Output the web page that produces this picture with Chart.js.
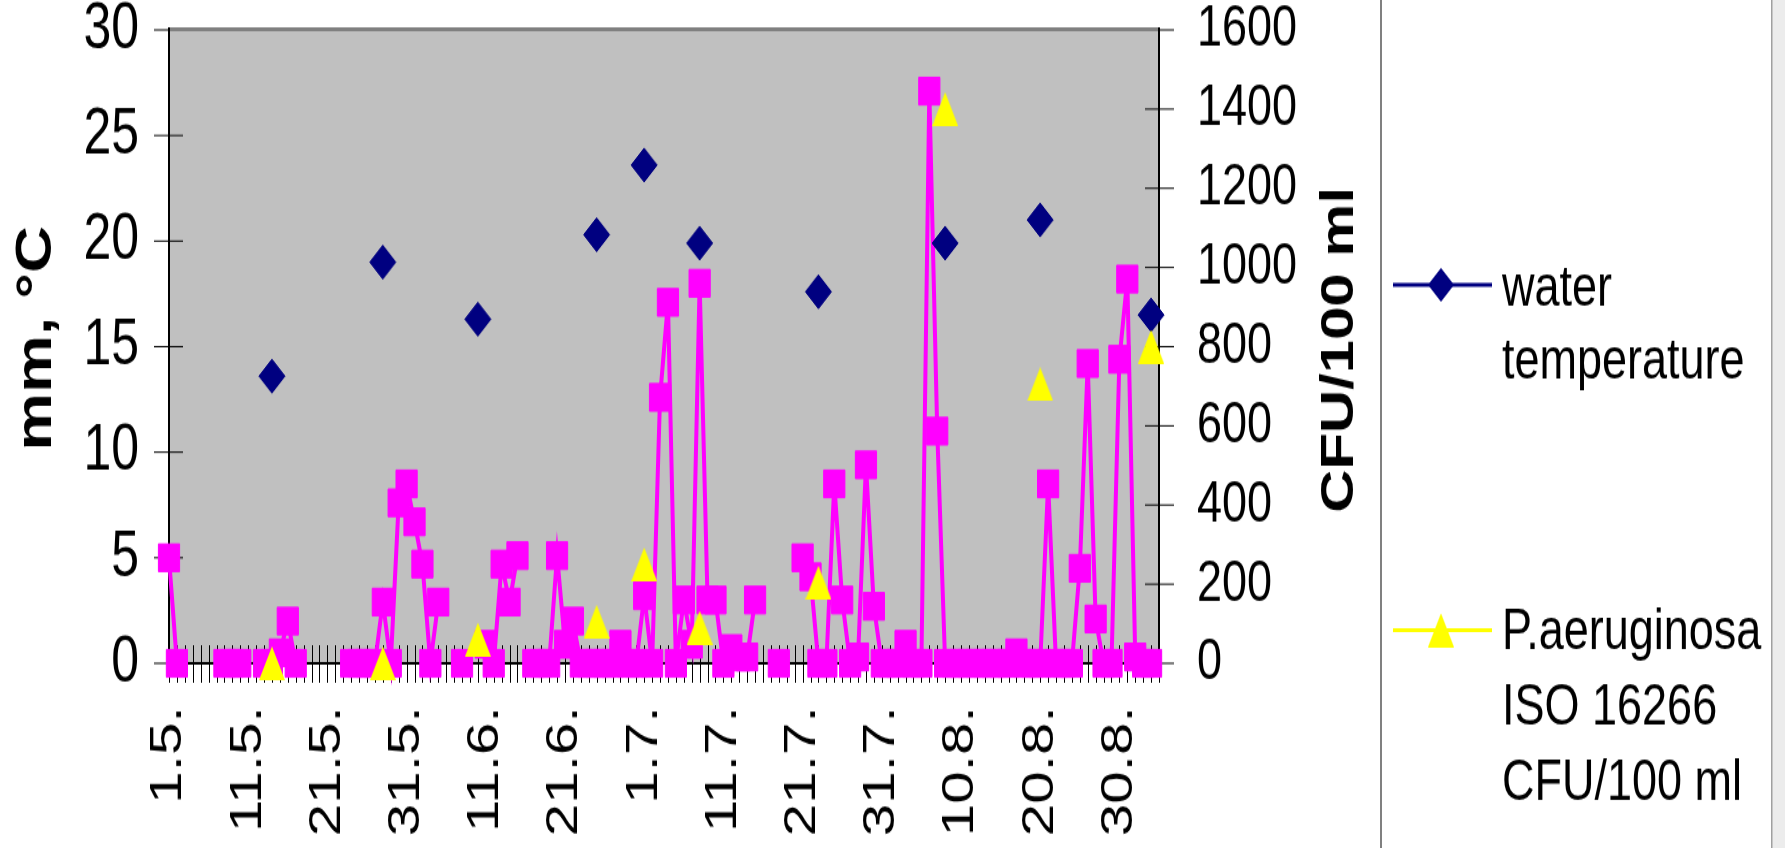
<!DOCTYPE html>
<html>
<head>
<meta charset="UTF-8">
<title>Rainfall, water temperature and P. aeruginosa</title>
<script src="https://cdn.jsdelivr.net/npm/chart.js@4.4.1/dist/chart.umd.min.js"></script>
<style>
  html, body { margin: 0; padding: 0; background: #fff; overflow: hidden; }
  /* the original picture is stretched vertically, so the whole chart is drawn flat and scaled */
  #stage { position: absolute; left: 0; top: 0; width: 1785px; height: 652px; transform: scaleY(1.3006); transform-origin: 0 0; }
</style>
</head>
<body>
<div id="stage"><canvas id="chart"></canvas></div>
<script>
// one category per sampling day (1.6. is not in the series)
var categories = [
    '1.5.','2.5.','3.5.','4.5.','5.5.','6.5.','7.5.','8.5.','9.5.','10.5.',
    '11.5.','12.5.','13.5.','14.5.','15.5.','16.5.','17.5.','18.5.','19.5.','20.5.',
    '21.5.','22.5.','23.5.','24.5.','25.5.','26.5.','27.5.','28.5.','29.5.','30.5.',
    '31.5.','2.6.','3.6.','4.6.','5.6.','6.6.','7.6.','8.6.','9.6.','10.6.',
    '11.6.','12.6.','13.6.','14.6.','15.6.','16.6.','17.6.','18.6.','19.6.','20.6.',
    '21.6.','22.6.','23.6.','24.6.','25.6.','26.6.','27.6.','28.6.','29.6.','30.6.',
    '1.7.','2.7.','3.7.','4.7.','5.7.','6.7.','7.7.','8.7.','9.7.','10.7.',
    '11.7.','12.7.','13.7.','14.7.','15.7.','16.7.','17.7.','18.7.','19.7.','20.7.',
    '21.7.','22.7.','23.7.','24.7.','25.7.','26.7.','27.7.','28.7.','29.7.','30.7.',
    '31.7.','1.8.','2.8.','3.8.','4.8.','5.8.','6.8.','7.8.','8.8.','9.8.',
    '10.8.','11.8.','12.8.','13.8.','14.8.','15.8.','16.8.','17.8.','18.8.','19.8.',
    '20.8.','21.8.','22.8.','23.8.','24.8.','25.8.','26.8.','27.8.','28.8.','29.8.',
    '30.8.','31.8.','1.9.','2.9.','3.9.','4.9.'
];

// rainfall, mm (left axis); null = no reading, the line breaks there
var rainMm = [
    5.0, 0, null, null, null, null, null, 0, 0, 0,
    null, null, 0, 0, 0.5, 2.0, 0, null, null, null,
    null, null, null, 0, 0, 0, 0, 2.9, 0, 7.6,
    8.5, 6.7, 4.7, 0, 2.9, null, null, 0, null, null,
    0.9, 0, 4.7, 2.9, 5.1, null, 0, 0, 0, 5.1,
    0.9, 2.0, 0, 0, 0, 0, 0, 0.9, 0, 0,
    3.2, 0, 12.6, 17.1, 0, 3.0, 0.9, 18.0, 3.0, 3.0,
    0, 0.7, 0.3, 0.3, 3.0, null, null, 0, null, null,
    5.0, 4.1, 0, 0, 8.5, 3.0, 0, 0.3, 9.4, 2.7,
    0, 0, 0, 0.9, 0, 0, 27.1, 11.0, 0, 0,
    0, 0, 0, 0, 0, 0, 0, 0.5, 0, 0,
    0, 8.5, 0, 0, 0, 4.5, 14.2, 2.1, 0, 0,
    14.4, 18.2, 0.3, 0, 0, null
];

// water samples
var sampleDates   = ['14.5.', '28.5.', '10.6.', '25.6.', '1.7.', '8.7.', '23.7.', '8.8.', '20.8.', '3.9.'];
var waterTemp     = [13.6, 19.0, 16.3, 20.3, 23.6, 19.9, 17.6, 19.9, 21.0, 16.5];
var aeruginosaCfu = [0, 0, 60, 105, 250, 90, 204, 1400, 705, 800];

var leftTicks  = [0, 5, 10, 15, 20, 25, 30];
var rightTicks = [0, 200, 400, 600, 800, 1000, 1200, 1400, 1600];

var FONT = '"Liberation Sans", Arial, sans-serif';
Chart.defaults.font.family = FONT;
Chart.defaults.color = '#000';

function makeTriangle(w, h, color) {
    var c = document.createElement('canvas');
    c.width = w;
    c.height = h;
    var g = c.getContext('2d');
    g.fillStyle = color;
    g.beginPath();
    g.moveTo(w / 2, 0);
    g.lineTo(w, h);
    g.lineTo(0, h);
    g.closePath();
    g.fill();
    return c;
}
var triangle = makeTriangle(26, 26, '#FFFF00');

function samples(values) {
    return sampleDates.map(function (d, k) { return { x: d, y: values[k] }; });
}

function diamond(ctx, x, y, r) {
    ctx.beginPath();
    ctx.moveTo(x - r, y);
    ctx.lineTo(x, y - r);
    ctx.lineTo(x + r, y);
    ctx.lineTo(x, y + r);
    ctx.closePath();
    ctx.fill();
}

function noEdgePadding(s) {
    s.paddingTop = 0;
    s.paddingBottom = 0;
    s.paddingLeft = 0;
    s.paddingRight = 0;
}

// Excel-like frame: grey plot area, crossing tick marks, axis titles, side legend
var excelFrame = {
    id: 'excelFrame',
    beforeDraw: function (chart) {
        var ctx = chart.ctx, a = chart.chartArea;
        ctx.save();
        ctx.fillStyle = '#C0C0C0';
        ctx.fillRect(a.left, a.top, a.right - a.left, a.bottom - a.top);
        ctx.restore();
    },
    beforeDatasetsDraw: function (chart) {
        var ctx = chart.ctx, a = chart.chartArea;
        var xs = chart.scales.x, ys = chart.scales.y, ys1 = chart.scales.y1;
        ctx.save();
        ctx.strokeStyle = '#000';
        ctx.lineWidth = 1;
        ctx.beginPath();
        for (var i = 0; i < categories.length; i++) {
            var px = Math.round(xs.getPixelForValue(i)) + 0.5;
            ctx.moveTo(px, a.bottom - 14);
            ctx.lineTo(px, a.bottom + 15);
        }
        leftTicks.forEach(function (v) {
            var py = ys.getPixelForValue(v);
            ctx.moveTo(a.left - 15, py);
            ctx.lineTo(a.left + 14, py);
        });
        rightTicks.forEach(function (v) {
            var py = ys1.getPixelForValue(v);
            ctx.moveTo(a.right - 14, py);
            ctx.lineTo(a.right + 15, py);
        });
        ctx.stroke();

        // plot border on top, axes on the other sides
        ctx.fillStyle = '#808080';
        ctx.fillRect(a.left, a.top - 2, a.right - a.left, 3);
        ctx.strokeStyle = '#000';
        ctx.lineWidth = 2;
        ctx.beginPath();
        ctx.moveTo(a.left, a.top - 2);
        ctx.lineTo(a.left, a.bottom + 1);
        ctx.moveTo(a.right, a.top - 2);
        ctx.lineTo(a.right, a.bottom + 1);
        ctx.moveTo(a.left, a.bottom);
        ctx.lineTo(a.right, a.bottom);
        ctx.stroke();
        ctx.restore();
    },
    afterDraw: function (chart) {
        var ctx = chart.ctx;
        var h = chart.height;
        ctx.save();

        // axis titles
        ctx.fillStyle = '#000';
        ctx.textAlign = 'center';
        ctx.textBaseline = 'middle';
        ctx.save();
        ctx.translate(37, 260);
        ctx.rotate(-Math.PI / 2);
        ctx.font = 'bold 50px ' + FONT;
        ctx.fillText('mm, \u00B0C', 0, 0);
        ctx.restore();
        ctx.save();
        ctx.translate(1340, 269);
        ctx.rotate(-Math.PI / 2);
        ctx.font = 'bold 46px ' + FONT;
        ctx.fillText('CFU/100 ml', 0, 0);
        ctx.restore();

        // legend box edges
        ctx.fillStyle = '#808080';
        ctx.fillRect(1380, 0, 2, h);
        ctx.fillStyle = '#ECECEC';
        ctx.fillRect(1772, 0, 13, h);
        ctx.fillStyle = '#A0A0A0';
        ctx.fillRect(1771, 0, 1.5, h);

        // legend entries
        ctx.lineWidth = 3;
        ctx.strokeStyle = '#000080';
        ctx.beginPath();
        ctx.moveTo(1393, 219);
        ctx.lineTo(1492, 219);
        ctx.stroke();
        ctx.fillStyle = '#000080';
        diamond(ctx, 1441, 219, 13);

        ctx.strokeStyle = '#FFFF00';
        ctx.beginPath();
        ctx.moveTo(1393, 484.5);
        ctx.lineTo(1492, 484.5);
        ctx.stroke();
        ctx.drawImage(triangle, 1441 - 13, 484.5 - 13);

        ctx.fillStyle = '#000';
        ctx.textAlign = 'left';
        ctx.textBaseline = 'alphabetic';
        ctx.font = '45px ' + FONT;
        ctx.fillText('water', 1502, 234.6);
        ctx.fillText('temperature', 1502, 290.8);
        ctx.fillText('P.aeruginosa', 1502, 499);
        ctx.fillText('ISO 16266', 1502, 557);
        ctx.fillText('CFU/100 ml', 1502, 614.6);
        ctx.restore();
    }
};

new Chart(document.getElementById('chart'), {
    type: 'line',
    data: {
        labels: categories,
        datasets: [
            {
                label: 'P.aeruginosa ISO 16266 CFU/100 ml',
                data: samples(aeruginosaCfu),
                yAxisID: 'y1',
                showLine: false,
                pointStyle: triangle,
                pointRadius: 13,
                backgroundColor: '#FFFF00',
                borderColor: '#FFFF00',
                clip: false,
                order: 0
            },
            {
                label: 'water temperature',
                data: samples(waterTemp),
                yAxisID: 'y',
                showLine: false,
                pointStyle: 'rectRot',
                pointRadius: 13,
                pointBorderWidth: 1,
                pointBackgroundColor: '#000080',
                pointBorderColor: '#000080',
                backgroundColor: '#000080',
                borderColor: '#000080',
                clip: false,
                order: 1
            },
            {
                label: 'rainfall mm',
                data: rainMm,
                yAxisID: 'y',
                borderColor: '#FF00FF',
                backgroundColor: '#FF00FF',
                borderWidth: 4,
                tension: 0,
                spanGaps: false,
                pointStyle: 'rect',
                pointRadius: 15,
                pointBorderWidth: 1,
                pointBackgroundColor: '#FF00FF',
                pointBorderColor: '#FF00FF',
                clip: false,
                order: 2
            }
        ]
    },
    options: {
        responsive: true,
        maintainAspectRatio: false,
        animation: false,
        events: [],
        layout: { padding: { left: 0, right: 404, top: 23, bottom: 0 } },
        plugins: {
            legend: { display: false },
            tooltip: { enabled: false }
        },
        scales: {
            x: {
                type: 'category',
                offset: false,
                grid: { display: false, drawTicks: false },
                border: { display: false },
                ticks: {
                    autoSkip: false,
                    minRotation: 90,
                    maxRotation: 90,
                    padding: 33,
                    color: '#000',
                    font: { size: 45 },
                    callback: function (v, i) { return i % 10 === 0 ? categories[i] : ''; }
                },
                afterFit: function (s) { s.height = 142; noEdgePadding(s); }
            },
            y: {
                position: 'left',
                min: 0,
                max: 30,
                grid: { display: false, drawTicks: false },
                border: { display: false },
                ticks: { padding: 30, color: '#000', font: { size: 50 }, callback: function (v) { return String(v); } },
                afterBuildTicks: function (s) { s.ticks = leftTicks.map(function (v) { return { value: v }; }); },
                afterFit: function (s) { s.width = 169; noEdgePadding(s); }
            },
            y1: {
                position: 'right',
                min: 0,
                max: 1600,
                grid: { display: false, drawTicks: false },
                border: { display: false },
                ticks: { padding: 38, color: '#000', font: { size: 45 }, callback: function (v) { return String(v); } },
                afterBuildTicks: function (s) { s.ticks = rightTicks.map(function (v) { return { value: v }; }); },
                afterFit: function (s) { s.width = 222; noEdgePadding(s); }
            }
        }
    },
    plugins: [excelFrame]
});
</script>
</body>
</html>
